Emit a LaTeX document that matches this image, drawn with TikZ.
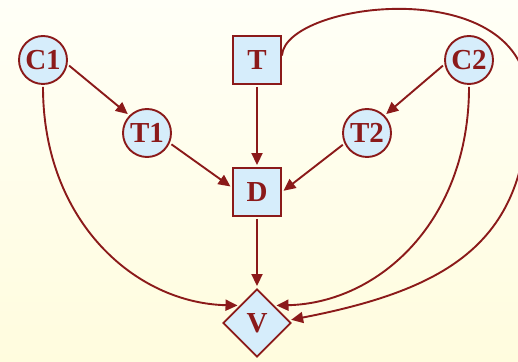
\documentclass[tikz,border=0pt]{standalone}
\usepackage{fontspec}
\setmainfont{Liberation Serif}
\usetikzlibrary{arrows.meta,shapes.geometric}

\definecolor{edgered}{RGB}{139,26,26}
\definecolor{nodeblue}{RGB}{214,237,251}
\definecolor{bgtop}{RGB}{255,255,247}
\definecolor{bgbottom}{RGB}{255,252,222}

\begin{document}
\begin{tikzpicture}[x=1pt, y=1pt,
  every node/.style={font=\fontsize{29}{34}\selectfont\bfseries, text=edgered,
    draw=edgered, fill=nodeblue, line width=1.9pt, inner sep=0pt},
  chance/.style={circle, minimum size=48pt},
  decision/.style={rectangle, minimum size=48pt},
  utility/.style={diamond, minimum size=68pt},
  link/.style={-{Triangle[length=12pt, width=11pt]}, line width=1.9pt, draw=edgered,
    shorten <=2pt, shorten >=2pt}]
  % Background
  \shade[top color=bgtop, bottom color=bgbottom] (0,0) rectangle (518,361);
  \useasboundingbox (0,0) rectangle (518,361);

  % Nodes
  \node[chance]   (C1) at (43,301)  {C1};
  \node[chance]   (T1) at (147,228) {T1};
  \node[decision] (T)  at (257,301) {T};
  \node[chance]   (C2) at (469,301) {C2};
  \node[chance]   (T2) at (367,228) {T2};
  \node[decision] (D)  at (257,169) {D};
  \node[utility]  (V)  at (257,38)  {V};
  \coordinate (far) at (528,261);

  % Straight links
  \draw[link] (C1.-10)  -- (T1.135);
  \draw[link] (T1.-24)  -- (D.170);
  \draw[link] (T.south) -- (D.north);
  \draw[link] (C2.190)  -- (T2.45);
  \draw[link] (T2.205)  -- (D.east);
  \draw[link] (D.south) -- (V.north);

  % Curved links into V
  \draw[link] (C1.south) .. controls (43,140) and (135,58) .. (V.north west);
  \draw[link] (C2.south) .. controls (469,140) and (379,58) .. (V.north east);
  \draw[link, shorten <=0pt] (T.10) .. controls (285,360) and (528,390) .. (far)
    .. controls (528,120) and (450,72) .. (V.5);
\end{tikzpicture}
\end{document}
